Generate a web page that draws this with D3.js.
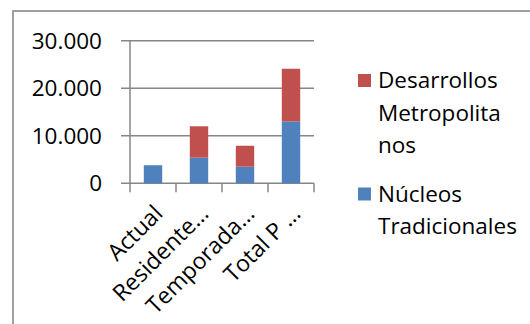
<!DOCTYPE html>
<html><head><meta charset="utf-8">
<script src="https://cdn.jsdelivr.net/npm/d3@7"></script>
<style>body{margin:0;background:#fff}svg{display:block}text{font-family:"Open Sans",sans-serif;fill:#000}</style>
</head><body>
<script>
const categories = ["Actual", "Residente…", "Temporada…", "Total P …"];
const nucleos = [3800, 5400, 3500, 13000];
const desarrollos = [0, 6600, 4400, 11100];
const seriesNames = ["Núcleos Tradicionales", "Desarrollos Metropolitanos"];
const yTicks = [0, 10000, 20000, 30000];
const legendLines = [["Desarrollos", "Metropolita", "nos"], ["Núcleos", "Tradicionales"]];
const colors = ["#4F81BD", "#C0504D"];

const W = 530, H = 324;
const svg = d3.select("body").append("svg").attr("width", W).attr("height", H);
svg.append("rect").attr("x", 13).attr("y", 11).attr("width", 600).attr("height", 400)
  .attr("fill", "none").attr("stroke", "#888").attr("stroke-width", 1.6);

const x = d3.scaleBand().domain(categories).range([130, 314]).paddingInner(0.6).paddingOuter(0.3);
const y = d3.scaleLinear().domain([0, 30000]).range([183.3, 40.7]);
const fmt = v => d3.format(",")(v).replace(/,/g, ".");

svg.append("g").selectAll("line").data(yTicks).join("line")
  .attr("x1", 121).attr("x2", 314).attr("y1", d => y(d)).attr("y2", d => y(d))
  .attr("stroke", "#868686").attr("stroke-width", 1.5);
svg.append("line").attr("x1", 130).attr("x2", 130).attr("y1", y(30000)).attr("y2", y(0))
  .attr("stroke", "#868686").attr("stroke-width", 1.5);
const xt = d3.range(5).map(i => 130 + i * x.step());
svg.append("g").selectAll("line").data(xt).join("line")
  .attr("x1", d => d).attr("x2", d => d).attr("y1", y(0)).attr("y2", y(0) + 9)
  .attr("stroke", "#868686").attr("stroke-width", 1.5);

svg.append("g").selectAll("text").data(yTicks).join("text")
  .attr("x", 102).attr("y", d => y(d)).attr("dy", "0.36em").attr("text-anchor", "end")
  .style("font-size", "22.5px").text(fmt);

const rows = categories.map((c, i) => ({cat: c, n: nucleos[i], d: desarrollos[i]}));
const stack = d3.stack().keys(["n", "d"])(rows);
svg.append("g").selectAll("g").data(stack).join("g").attr("fill", (s, i) => colors[i])
  .selectAll("rect").data(s => s).join("rect")
  .attr("x", d => x(d.data.cat)).attr("width", x.bandwidth())
  .attr("y", d => y(d[1])).attr("height", d => y(d[0]) - y(d[1]));

svg.append("g").selectAll("text").data(categories).join("text")
  .attr("transform", d => `translate(${x(d) + x.bandwidth() / 2 + 11},${215}) rotate(-45)`)
  .attr("text-anchor", "end").style("font-size", "23px").text(d => d);

const lg = svg.append("g");
const legendY = [88, 201.5];
legendLines.forEach((lines, i) => {
  lg.append("rect").attr("x", 358).attr("y", legendY[i] - 14).attr("width", 13).attr("height", 13)
    .attr("fill", colors[1 - i]);
  lines.forEach((t, j) => {
    lg.append("text").attr("x", 378).attr("y", legendY[i] + j * 32.5).style("font-size", "22.5px").text(t);
  });
});
</script>
</body></html>
